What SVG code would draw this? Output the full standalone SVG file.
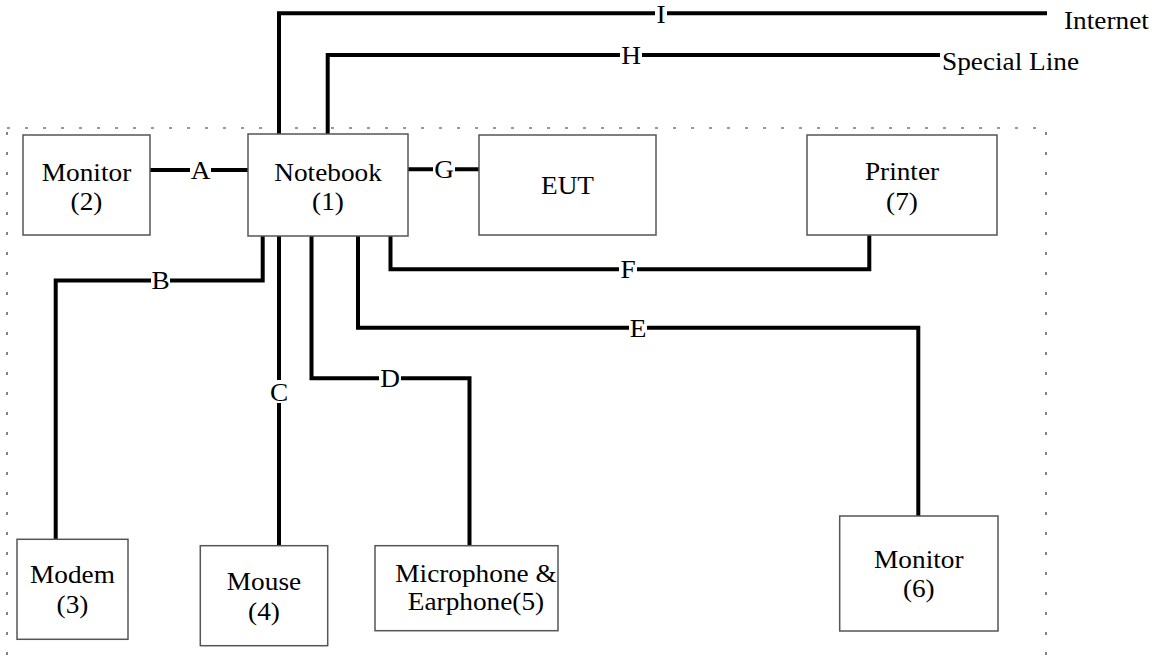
<svg xmlns="http://www.w3.org/2000/svg" width="1163" height="660" viewBox="0 0 1163 660">
<style>
.box{fill:#fff;stroke:#555;stroke-width:1.5}
.t{font-family:"Liberation Serif","Times New Roman",serif;font-size:26px;fill:#000;text-anchor:middle}
.ts{font-family:"Liberation Serif","Times New Roman",serif;font-size:26px;fill:#000}
.c{fill:none;stroke:#000;stroke-width:4;stroke-linejoin:miter;stroke-linecap:butt}
.bg{fill:#fff}
.d{stroke:#333;stroke-width:1.2;fill:none}
</style>
<rect width="1163" height="660" fill="#fff"/>
<g id="boundary">
<line class="d" x1="7" y1="128" x2="1046" y2="128" stroke-dasharray="3 15"/>
<line class="d" x1="7" y1="132" x2="7" y2="660" stroke-dasharray="3 17"/>
<line class="d" x1="1046" y1="132" x2="1046" y2="660" stroke-dasharray="3 17"/>
</g>
<g id="connectors">
<path class="c" d="M279 134 V13.3 H1047"/>
<path class="c" d="M327.7 134 V55 H940"/>
<path class="c" d="M150 170 H248"/>
<path class="c" d="M408 169.3 H479"/>
<path class="c" d="M262.7 236 V280.5 H55.7 V539.3"/>
<path class="c" d="M279 236 V545.7"/>
<path class="c" d="M311.5 236 V378.3 H469.5 V545.7"/>
<path class="c" d="M358 236 V327.7 H918.3 V516"/>
<path class="c" d="M390.5 236 V269.3 H869.3 V235.3"/>
<rect class="bg" x="190" y="160" width="21" height="20"/>
<rect class="bg" x="151" y="270" width="19" height="20"/>
<rect class="bg" x="269" y="380" width="20" height="23"/>
<rect class="bg" x="379" y="368" width="22" height="20"/>
<rect class="bg" x="629" y="317" width="18" height="20"/>
<rect class="bg" x="619" y="259" width="18" height="20"/>
<rect class="bg" x="433" y="159" width="22" height="20"/>
<rect class="bg" x="620" y="45" width="22" height="20"/>
<rect class="bg" x="655" y="3" width="12" height="20"/>
<text class="t" transform="translate(200.5 179) scale(1.05 1)">A</text>
<text class="t" transform="translate(160.5 289) scale(1.05 1)">B</text>
<text class="t" transform="translate(279 400.5) scale(1.05 1)">C</text>
<text class="t" transform="translate(390 387) scale(1.05 1)">D</text>
<text class="t" transform="translate(638 336.5) scale(1.05 1)">E</text>
<text class="t" transform="translate(628 278) scale(1.05 1)">F</text>
<text class="t" transform="translate(444 178) scale(1.05 1)">G</text>
<text class="t" transform="translate(631 64) scale(1.05 1)">H</text>
<text class="t" transform="translate(661 22.5) scale(1.05 1)">I</text>
</g>
<g id="internet"><text class="ts" transform="translate(1064 28.5) scale(1.05 1)">Internet</text></g>
<g id="special-line"><text class="ts" transform="translate(942 69.5) scale(1.05 1)">Special Line</text></g>
<g id="monitor2">
<rect class="box" x="23" y="135" width="127" height="100"/>
<text class="t" transform="translate(86.5 181) scale(1.05 1)">Monitor</text>
<text class="t" transform="translate(86.5 210) scale(1.05 1)">(2)</text>
</g>
<g id="notebook">
<rect class="box" x="248" y="134" width="160" height="102"/>
<text class="t" transform="translate(328 181) scale(1.05 1)">Notebook</text>
<text class="t" transform="translate(328 210) scale(1.05 1)">(1)</text>
</g>
<g id="eut">
<rect class="box" x="479" y="135" width="177" height="100"/>
<text class="t" transform="translate(567.5 194) scale(1.05 1)">EUT</text>
</g>
<g id="printer">
<rect class="box" x="807" y="135" width="190" height="100"/>
<text class="t" transform="translate(902 180) scale(1.05 1)">Printer</text>
<text class="t" transform="translate(902 210) scale(1.05 1)">(7)</text>
</g>
<g id="modem">
<rect class="box" x="17" y="539.3" width="111" height="100"/>
<text class="t" transform="translate(72.5 583) scale(1.05 1)">Modem</text>
<text class="t" transform="translate(72.5 613) scale(1.05 1)">(3)</text>
</g>
<g id="mouse">
<rect class="box" x="200.3" y="545.7" width="127.4" height="100"/>
<text class="t" transform="translate(264 590) scale(1.05 1)">Mouse</text>
<text class="t" transform="translate(264 620) scale(1.05 1)">(4)</text>
</g>
<g id="microphone">
<rect class="box" x="375" y="545.7" width="183" height="85"/>
<text class="t" transform="translate(476 582) scale(1.05 1)">Microphone &amp;</text>
<text class="t" transform="translate(476 610) scale(1.05 1)">Earphone(5)</text>
</g>
<g id="monitor6">
<rect class="box" x="839.7" y="516" width="158.3" height="115"/>
<text class="t" transform="translate(918.8 568) scale(1.05 1)">Monitor</text>
<text class="t" transform="translate(918.8 597) scale(1.05 1)">(6)</text>
</g>
</svg>
